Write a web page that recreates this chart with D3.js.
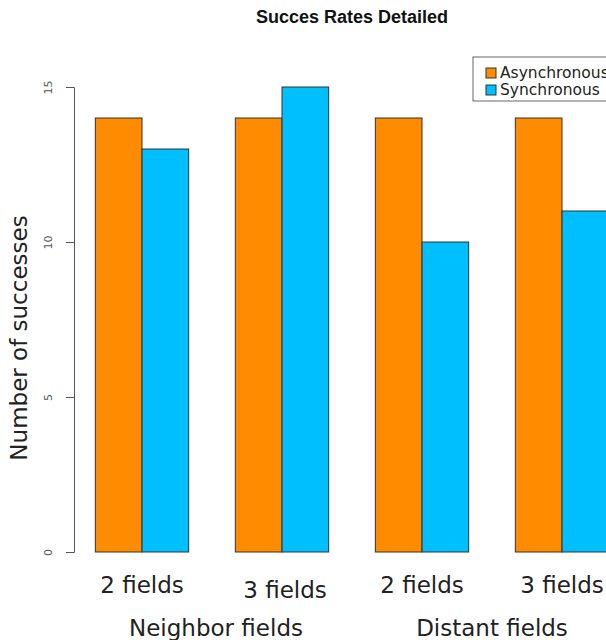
<!DOCTYPE html>
<html><head><meta charset="utf-8">
<script src="https://cdn.jsdelivr.net/npm/d3@7"></script>
<style>body{margin:0;background:#fff;} svg{display:block;}</style>
</head><body>
<svg id="c" width="606" height="640"></svg>
<script>
const groups = ["Neighbor fields", "Distant fields"];
const subLabels = ["2 fields", "3 fields", "2 fields", "3 fields"];
const series = ["Asynchronous", "Synchronous"];
const asyncVals = [14, 14, 14, 14];
const syncVals = [13, 15, 10, 11];
const yTicks = [0, 5, 10, 15];
const colors = ["#FF8C00", "#00BFFF"];

const svg = d3.select("#c");
const y = d3.scaleLinear().domain([0, 15]).range([552, 87]);
const x = d3.scaleBand().domain(d3.range(4)).range([72, 632]).paddingInner(1/3).paddingOuter(1/6);
const xs = d3.scaleBand().domain([0,1]).range([0, x.bandwidth()]);

// title
svg.append("text").attr("x", 352).attr("y", 23).attr("text-anchor","middle")
  .attr("font-family","Liberation Sans, Arial, sans-serif").attr("font-weight","bold").attr("font-size",18)
  .attr("fill","#111").text("Succes Rates Detailed");

// bars
const vals = [asyncVals, syncVals];
const bars = svg.append("g");
d3.range(4).forEach(i => {
  [0,1].forEach(s => {
    bars.append("rect").attr("x", x(i) + xs(s)).attr("y", y(vals[s][i]))
      .attr("width", xs.bandwidth()).attr("height", y(0) - y(vals[s][i]))
      .attr("fill", colors[s]).attr("stroke", "#333").attr("stroke-width", 1);
  });
});

// y axis
const ax = svg.append("g").attr("transform","translate(74,0)")
  .call(d3.axisLeft(y).tickValues(yTicks).tickSize(8).tickFormat(d3.format("d")));
ax.select(".domain").attr("stroke","#555");
ax.selectAll(".tick line").attr("stroke","#555");
ax.selectAll(".tick text").attr("fill","#555").attr("font-size",11)
  .attr("font-family","DejaVu Sans, sans-serif").attr("text-anchor","middle")
  .attr("x", -26).attr("y", 0).attr("dy","0.35em").attr("transform", "rotate(-90, -26, 0)");

svg.append("text").attr("transform","translate(27,338) rotate(-90)").attr("text-anchor","middle")
  .attr("font-family","DejaVu Sans, sans-serif").attr("font-size",23).attr("fill","#222")
  .text("Number of successes");

// sub labels
const subDy = [0, 5, 0, 0];
subLabels.forEach((t, i) => {
  svg.append("text").attr("x", x(i) + x.bandwidth()/2 + (i===1?3:0)).attr("y", 593 + subDy[i])
    .attr("text-anchor","middle").attr("font-family","DejaVu Sans, sans-serif").attr("font-size",23)
    .attr("fill","#222").text(t);
});
groups.forEach((g, gi) => {
  const cx = (x(gi*2) + x(gi*2+1) + x.bandwidth())/2;
  svg.append("text").attr("x", cx + (gi===0 ? 4 : 0)).attr("y", 636)
    .attr("text-anchor","middle").attr("font-family","DejaVu Sans, sans-serif").attr("font-size",23)
    .attr("fill","#222").text(g);
});

// legend
const lg = svg.append("g").attr("transform","translate(473,57)");
lg.append("rect").attr("width", 140).attr("height", 44).attr("fill","#fff").attr("stroke","#666");
series.forEach((s, i) => {
  lg.append("rect").attr("x", 13).attr("y", 11 + i*17).attr("width", 10).attr("height", 10)
    .attr("fill", colors[i]).attr("stroke","#333");
  lg.append("text").attr("x", 27).attr("y", 21 + i*17).attr("font-family","DejaVu Sans, sans-serif")
    .attr("font-size",15.5).attr("fill","#222").text(s);
});
</script>
</body></html>
